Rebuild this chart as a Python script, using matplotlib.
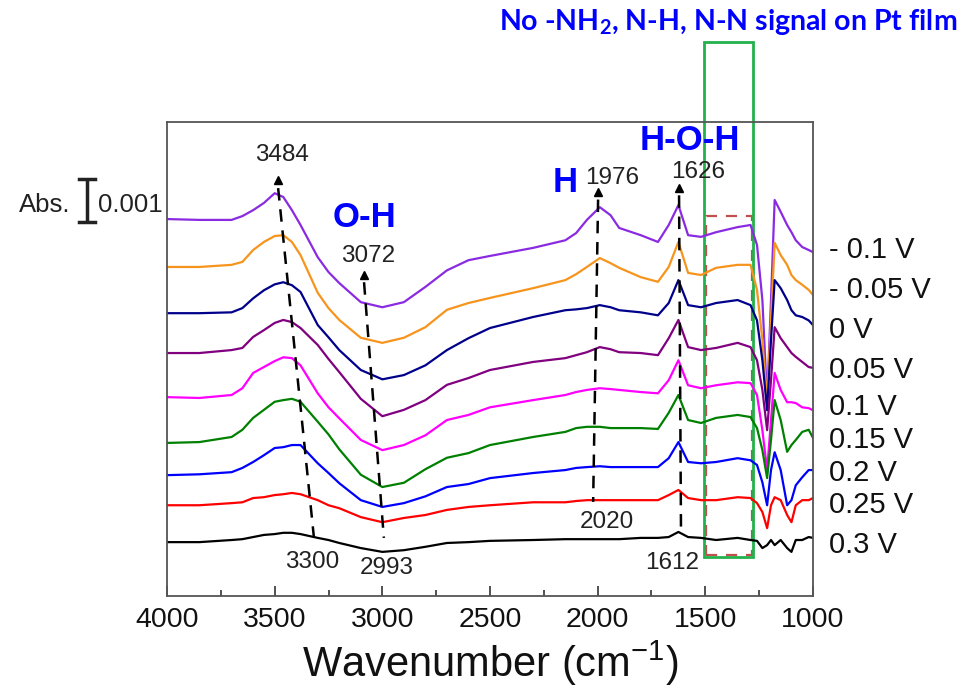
import numpy as np
import matplotlib
matplotlib.use("Agg")
import matplotlib.pyplot as plt
from matplotlib.patches import Rectangle
from matplotlib.transforms import blended_transform_factory

plt.rcParams["font.family"] = ["Liberation Sans", "DejaVu Sans"]

wavenumber = [4000, 3850, 3700, 3650, 3600, 3550, 3500, 3460, 3420, 3380,
              3300, 3250, 3200, 3100, 3000, 2900, 2800, 2700, 2600, 2500,
              2300, 2150, 2100, 2050, 1990, 1940, 1900, 1800, 1720, 1670,
              1625, 1580, 1520, 1450, 1350, 1290, 1260, 1235, 1213, 1195,
              1178, 1150, 1120, 1100, 1080, 1050, 1020, 1000]

# absorbance change relative to each trace's baseline (units of 0.001 Abs)
sp_m010 = [0, -0.02, -0.02, 0.07, 0.21, 0.38, 0.61, 0.52, 0.21, -0.14,
           -0.90, -1.25, -1.51, -1.96, -2.08, -1.96, -1.60, -1.21, -0.97, -0.87,
           -0.68, -0.50, -0.33, -0.02, 0.28, 0.09, -0.21, -0.38, -0.54, -0.14,
           0.33, -0.38, -0.42, -0.31, -0.19, -0.14, -0.61, -1.91, -4.27, -1.91,
           0.45, 0.17, -0.14, -0.31, -0.50, -0.66, -0.73, -0.78]
sp_m005 = [0, 0, 0.05, 0.12, 0.40, 0.59, 0.73, 0.75, 0.59, 0.28,
           -0.61, -0.97, -1.25, -1.67, -1.79, -1.67, -1.42, -1.01, -0.85, -0.73,
           -0.50, -0.31, -0.17, 0, 0.21, 0.09, -0.02, -0.24, -0.35, 0,
           0.59, -0.14, -0.19, -0.02, 0.05, 0.05, -0.54, -1.73, -3.14, -1.25,
           0.57, 0.28, 0.05, -0.19, -0.31, -0.42, -0.54, -0.66]
sp_000 = [0, 0, 0.02, 0.12, 0.35, 0.54, 0.68, 0.73, 0.66, 0.50,
          -0.28, -0.57, -0.87, -1.34, -1.56, -1.46, -1.23, -0.87, -0.59, -0.35,
          -0.09, 0.07, 0.09, 0.12, 0.19, 0.14, 0.07, 0.02, -0.05, 0.24,
          0.78, 0.19, 0.14, 0.24, 0.31, 0.19, -0.17, -1.11, -2.29, -0.64,
          0.78, 0.59, 0.31, 0.07, -0.05, -0.09, -0.17, -0.28]
sp_005 = [0, 0, 0.07, 0.12, 0.38, 0.54, 0.71, 0.78, 0.73, 0.59,
          0.19, -0.14, -0.45, -1.08, -1.49, -1.34, -1.11, -0.75, -0.59, -0.40,
          -0.21, -0.12, -0.05, 0.02, 0.14, 0.09, 0.02, 0, -0.05, 0.35,
          0.78, 0.14, 0.07, 0.12, 0.24, 0.14, -0.17, -0.87, -1.82, -0.64,
          0.61, 0.35, 0.14, 0, -0.09, -0.21, -0.33, -0.35]
sp_010 = [0, -0.02, 0.05, 0.21, 0.57, 0.71, 0.85, 0.94, 0.92, 0.75,
          0.09, -0.24, -0.50, -1.01, -1.25, -1.13, -0.90, -0.54, -0.42, -0.24,
          -0.07, 0.05, 0.12, 0.17, 0.21, 0.19, 0.17, 0.12, 0.09, 0.40,
          0.87, 0.28, 0.21, 0.28, 0.35, 0.33, 0.05, -0.78, -1.72, -0.54,
          0.57, 0.17, -0.12, -0.12, -0.14, -0.24, -0.26, -0.31]
sp_015 = [0, 0.02, 0.14, 0.31, 0.59, 0.78, 0.97, 1.01, 1.04, 0.97,
          0.50, 0.20, -0.15, -0.75, -1.04, -0.94, -0.62, -0.35, -0.24, -0.05,
          0.14, 0.26, 0.35, 0.38, 0.38, 0.35, 0.35, 0.35, 0.33, 0.71,
          1.13, 0.54, 0.47, 0.59, 0.66, 0.61, 0.35, -0.17, -0.83, 0.07,
          1.01, 0.54, -0.21, -0.05, 0.07, 0.26, 0.31, 0.12]
sp_020 = [0, 0.02, 0.07, 0.17, 0.31, 0.47, 0.64, 0.66, 0.71, 0.71,
          0.28, 0.05, -0.19, -0.59, -0.75, -0.66, -0.50, -0.28, -0.21, -0.07,
          0.05, 0.12, 0.17, 0.19, 0.21, 0.19, 0.19, 0.19, 0.19, 0.40,
          0.78, 0.31, 0.28, 0.31, 0.40, 0.35, 0.24, -0.17, -0.71, 0.12,
          0.54, 0.12, -0.71, -0.59, -0.24, -0.05, 0.12, 0.12]
sp_025 = [0.02, 0.02, 0.07, 0.09, 0.19, 0.21, 0.26, 0.28, 0.31, 0.28,
          0.14, 0.02, -0.05, -0.26, -0.38, -0.28, -0.21, -0.09, -0.02, 0.02,
          0.09, 0.09, 0.12, 0.14, 0.14, 0.14, 0.14, 0.14, 0.14, 0.26,
          0.38, 0.19, 0.14, 0.14, 0.21, 0.19, 0.07, -0.14, -0.52, 0.02,
          0.21, 0.14, -0.21, -0.38, 0.02, 0.14, 0.14, 0.19]
sp_030 = [0.02, 0.02, 0.07, 0.09, 0.14, 0.19, 0.21, 0.24, 0.24, 0.21,
          0.12, 0.07, 0, -0.12, -0.21, -0.17, -0.09, 0, 0.02, 0.05,
          0.07, 0.09, 0.09, 0.09, 0.09, 0.09, 0.09, 0.12, 0.12, 0.14,
          0.26, 0.14, 0.12, 0.07, 0.12, 0.07, 0.05, -0.12, -0.05, 0.07,
          -0.05, 0.07, -0.12, -0.21, 0.07, 0.07, 0.14, 0.12]

spectra = [sp_m010, sp_m005, sp_000, sp_005, sp_010, sp_015, sp_020, sp_025, sp_030]
potentials = ["- 0.1 V", "- 0.05 V", "0 V", "0.05 V", "0.1 V", "0.15 V", "0.2 V", "0.25 V", "0.3 V"]
offsets = [8.89, 7.76, 6.67, 5.73, 4.69, 3.61, 2.85, 2.12, 1.25]
label_y = [8.16, 7.22, 6.27, 5.33, 4.46, 3.68, 2.90, 2.15, 1.20]
colors = ["#8a2be2", "#f7941d", "#00008b", "#800080", "#ff00ff",
          "#008000", "#0000ff", "#ff0000", "#000000"]

# peak guide lines: (top wn, top y, bottom wn, bottom y)
guides = [(3484, 9.62, 3318, 1.39), (3085, 7.40, 2993, 1.37),
          (1998, 9.35, 2021, 2.22), (1622, 9.45, 1613, 1.51)]
top_labels = [("3484", 3466, 10.40), ("3072", 3066, 8.02),
              ("1976", 1933, 9.86), ("1626", 1534, 10.00)]
bottom_labels = [("3300", 3327, 0.80), ("2993", 2978, 0.66),
                 ("2020", 1956, 1.75), ("1612", 1655, 0.78)]
group_labels = [("O-H", 3085, 8.92), ("H", 2152, 9.76), ("H-O-H", 1571, 10.75)]

fig = plt.figure(figsize=(9.66, 6.93), dpi=100)
ax = fig.add_axes([0.1729, 0.1400, 0.6687, 0.6840])

for sp, off, c in zip(spectra, offsets, colors):
    ax.plot(wavenumber, np.array(sp) + off, color=c, lw=1.6)

for x0, y0, x1, y1 in guides:
    ax.plot([x0, x1], [y0, y1], color="black", lw=1.8, ls=(0, (5, 3.5)))
    ax.plot([x0], [y0 + 0.18], marker="^", color="black", ms=6)

for t, x, y in top_labels + bottom_labels:
    ax.text(x, y, t, ha="center", va="center", fontsize=17.5, color="#222222")

for t, x, y in group_labels:
    ax.text(x, y, t, ha="center", va="center", fontsize=25,
            fontweight="bold", color="#0000ff")

trans = blended_transform_factory(ax.transAxes, ax.transData)
for t, y in zip(potentials, label_y):
    ax.text(1.025, y, t, transform=trans, ha="left", va="center",
            fontsize=21, color="#111111")

# scale bar
ax.plot([-0.124, -0.124], [8.82, 9.83], transform=trans, color="#222222",
        lw=2.5, clip_on=False, solid_capstyle="butt")
for yy in (8.82, 9.83):
    ax.plot([-0.137, -0.111], [yy, yy], transform=trans, color="#222222",
            lw=2.5, clip_on=False)
ax.text(-0.150, 9.22, "Abs.", transform=trans, ha="right", va="center",
        fontsize=18.5, color="#222222")
ax.text(-0.107, 9.22, "0.001", transform=trans, ha="left", va="center",
        fontsize=18.5, color="#222222")

# highlighted region
ax.add_patch(Rectangle((1497, 0.97), -214, 7.99, fill=False, ec="#c0504d",
                       lw=1.6, ls=(0, (5, 4)), clip_on=False))
ax.add_patch(Rectangle((1506, 0.92), -228, 12.15, fill=False, ec="#22b14c",
                       lw=2.0, clip_on=False))
fig.text(728 / 966, 1 - 22 / 693, r"No -NH$\mathregular{_2}$, N-H, N-N signal on Pt film",
         ha="center", va="center", fontsize=20.5, fontweight="bold",
         color="#0000ff", family=["Lato", "DejaVu Sans"])

ax.set_xlim(4000, 1000)
ax.set_ylim(0, 11.18)
ax.set_xticks([4000, 3500, 3000, 2500, 2000, 1500, 1000])
ax.set_xticks(np.arange(1250, 4000, 500), minor=True)
ax.set_yticks([])
ax.tick_params(axis="x", which="major", direction="in", length=7, width=1.2,
               labelsize=20.5, pad=8, colors="#333333", labelcolor="#111111")
ax.tick_params(axis="x", which="minor", direction="in", length=4, width=1.2,
               colors="#333333")
for s in ax.spines.values():
    s.set_color("#555555")
    s.set_linewidth(1.3)
ax.set_xlabel(r"Wavenumber (cm$\mathregular{^{-1}}$)", fontsize=30,
              labelpad=4, color="#111111")

fig.savefig("out.png", dpi=100)
